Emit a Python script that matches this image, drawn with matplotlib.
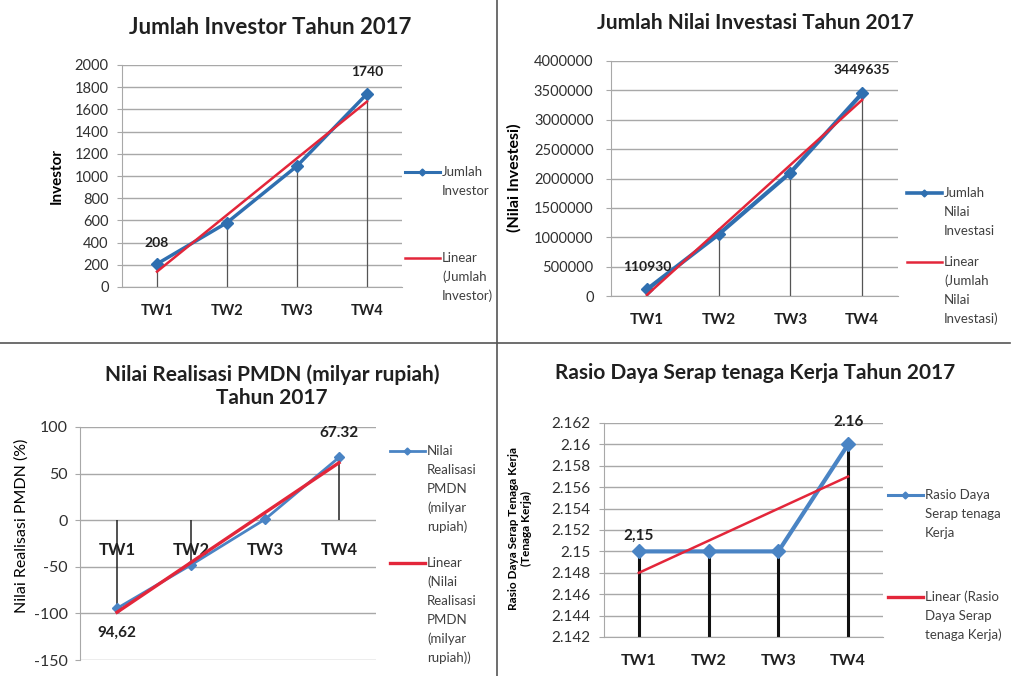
import matplotlib
matplotlib.use('Agg')
import matplotlib.pyplot as plt
from matplotlib.lines import Line2D
import numpy as np

plt.rcParams['font.family'] = ['Lato', 'DejaVu Sans']

# data
quarters = ['TW1', 'TW2', 'TW3', 'TW4']
investor = [208, 580, 1090, 1740]
nilai_investasi = [110930, 1050000, 2100000, 3449635]
realisasi_pmdn = [-94.62, -48, 1, 67.32]
rasio_serap = [2.15, 2.15, 2.15, 2.16]

W, H = 1017, 676
BLUE = '#2f6fb0'
BLUE2 = '#4a84c4'
RED = '#e3263a'
GRID = '#a8a8a8'

fig = plt.figure(figsize=(W / 100, H / 100), dpi=100)


def rect(l, t, r, b):
    return [l / W, 1 - b / H, (r - l) / W, (b - t) / H]


def ftext(x, y, s, **kw):
    kw.setdefault('ha', 'center')
    kw.setdefault('va', 'center')
    fig.text(x / W, 1 - y / H, s, **kw)


def legend_entry(x, y, color, lw, lines, marker=True):
    fig.add_artist(Line2D([x / W, (x + 35) / W], [1 - y / H, 1 - y / H],
                          transform=fig.transFigure, color=color, lw=lw))
    if marker:
        fig.add_artist(Line2D([(x + 17) / W], [1 - y / H], transform=fig.transFigure,
                              color=color, marker='D', ms=3.5))
    for i, s in enumerate(lines):
        ftext(x + 37, y + i * 19, s, ha='left', fontsize=9.5, color='#404040')


def base(ax, ylim, yticks, fmt, ysize, xsize):
    ax.set_xlim(-0.5, 3.5)
    ax.set_ylim(*ylim)
    ax.set_yticks(yticks)
    ax.set_yticklabels([fmt(v) for v in yticks], fontsize=ysize, color='#303030')
    ax.yaxis.grid(True, color=GRID, lw=1)
    ax.set_axisbelow(True)
    for s in ['top', 'right']:
        ax.spines[s].set_visible(False)
    ax.spines['left'].set_color(GRID)
    ax.spines['bottom'].set_color(GRID)
    ax.tick_params(axis='y', length=3.6, color=GRID, pad=6)
    ax.set_xticks(range(4))
    ax.set_xticklabels(quarters, fontsize=xsize, fontweight='bold', color='#202020')
    ax.tick_params(axis='x', length=0, pad=12)


def trend(vals):
    x = np.arange(len(vals))
    k, b = np.polyfit(x, vals, 1)
    return k * x + b


def label(ax, i, vals, s, dy, size=10):
    ax.annotate(s, (i, vals[i]), xytext=(0, dy), textcoords='offset pixels',
                ha='center', va='center', fontsize=size, fontweight='bold', color='#202020')


x = np.arange(4)

# ---- panel 1
ax1 = fig.add_axes(rect(122, 65, 402, 287))
base(ax1, (0, 2000), range(0, 2001, 200), lambda v: f'{v}', 10.5, 10.5)
ax1.vlines(x, 0, investor, color='#555555', lw=0.9)
ax1.plot(x, investor, color=BLUE, lw=2.5, marker='D', ms=6, zorder=3)
ax1.plot(x, trend(investor), color=RED, lw=1.8, zorder=4)
label(ax1, 0, investor, '208', 21)
label(ax1, 3, investor, '1740', 22)
ftext(270, 28, 'Jumlah Investor Tahun 2017', fontsize=16, fontweight='bold', color='#202020')
ftext(57, 176, 'Investor', rotation=90, fontsize=11, fontweight='bold')
legend_entry(405, 172, BLUE, 2.2, ['Jumlah', 'Investor'])
legend_entry(405, 258, RED, 1.8, ['Linear', '(Jumlah', 'Investor)'], marker=False)

# ---- panel 2
ax2 = fig.add_axes(rect(611, 61, 898, 296))
base(ax2, (0, 4000000), range(0, 4000001, 500000), lambda v: f'{v}', 10.5, 11)
ax2.tick_params(axis='y', pad=9)
ax2.vlines(x, 0, nilai_investasi, color='#555555', lw=0.9)
ax2.plot(x, nilai_investasi, color=BLUE, lw=3, marker='D', ms=6, zorder=3)
ax2.plot(x, trend(nilai_investasi), color=RED, lw=1.8, zorder=4)
label(ax2, 0, nilai_investasi, '110930', 22)
label(ax2, 3, nilai_investasi, '3449635', 23)
ftext(755, 23, 'Jumlah Nilai Investasi Tahun 2017', fontsize=15, fontweight='bold', color='#202020')
ftext(514, 178, '(Nilai Investesi)', rotation=90, fontsize=11.5, fontweight='bold')
legend_entry(907, 193, BLUE, 2.6, ['Jumlah', 'Nilai', 'Investasi'])
legend_entry(907, 262, RED, 1.8, ['Linear', '(Jumlah', 'Nilai', 'Investasi)'], marker=False)

# ---- panel 3 (category axis crosses at 0)
ax3 = fig.add_axes(rect(80, 427, 376, 660))
ax3.spines['bottom'].set_position(('data', 0))
base(ax3, (-150, 100), range(-150, 101, 50), lambda v: f'{v}', 11.5, 12)
ax3.spines['bottom'].set_visible(False)
ax3.tick_params(axis='x', pad=16)
ax3.tick_params(axis='y', pad=5)
ax3.vlines(x, 0, realisasi_pmdn, color='#222222', lw=1.1)
ax3.plot(x, realisasi_pmdn, color=BLUE2, lw=2, marker='D', ms=5, zorder=3)
ax3.plot(x, trend(realisasi_pmdn), color=RED, lw=2.4, zorder=4)
label(ax3, 0, realisasi_pmdn, '94,62', -24, 11)
label(ax3, 3, realisasi_pmdn, '67.32', 24, 11)
ftext(272, 386, 'Nilai Realisasi PMDN (milyar rupiah)\nTahun 2017', fontsize=15,
      fontweight='bold', color='#202020', linespacing=1.2)
ftext(22, 526, 'Nilai Realisasi PMDN (%)', rotation=90, fontsize=11.5)
legend_entry(390, 451, BLUE2, 2, ['Nilai', 'Realisasi', 'PMDN', '(milyar', 'rupiah)'])
legend_entry(390, 563, RED, 2.4, ['Linear', '(Nilai', 'Realisasi', 'PMDN', '(milyar', 'rupiah))'],
             marker=False)

# ---- panel 4
ax4 = fig.add_axes(rect(604, 423, 883, 637))
ticks4 = np.round(np.arange(2.142, 2.1621, 0.002), 3)
base(ax4, (2.142, 2.162), ticks4, lambda v: f'{v:g}', 11, 11.5)
ax4.vlines(x, 2.142, rasio_serap, color='#111111', lw=2.2)
ax4.plot(x, rasio_serap, color=BLUE2, lw=3, marker='D', ms=7, zorder=3)
ax4.plot(x, trend(rasio_serap), color=RED, lw=1.8, zorder=4)
label(ax4, 0, rasio_serap, '2,15', 16, 11)
label(ax4, 3, rasio_serap, '2.16', 22, 11)
ftext(755, 373, 'Rasio Daya Serap tenaga Kerja Tahun 2017', fontsize=15, fontweight='bold',
      color='#202020')
ftext(520, 529, 'Rasio Daya Serap Tenaga Kerja\n(Tenaga Kerja)', rotation=90, fontsize=8.5,
      fontweight='bold', linespacing=1.3)
legend_entry(888, 495, BLUE2, 2.2, ['Rasio Daya', 'Serap tenaga', 'Kerja'])
legend_entry(888, 597, RED, 2.4, ['Linear (Rasio', 'Daya Serap', 'tenaga Kerja)'], marker=False)

# panel dividers
fig.add_artist(Line2D([497 / W, 497 / W], [0, 1], transform=fig.transFigure, color='#555555', lw=1.2))
fig.add_artist(Line2D([0, 1010 / W], [1 - 343 / H, 1 - 343 / H], transform=fig.transFigure,
                      color='#555555', lw=1.2))

fig.savefig('out.png', dpi=100)
